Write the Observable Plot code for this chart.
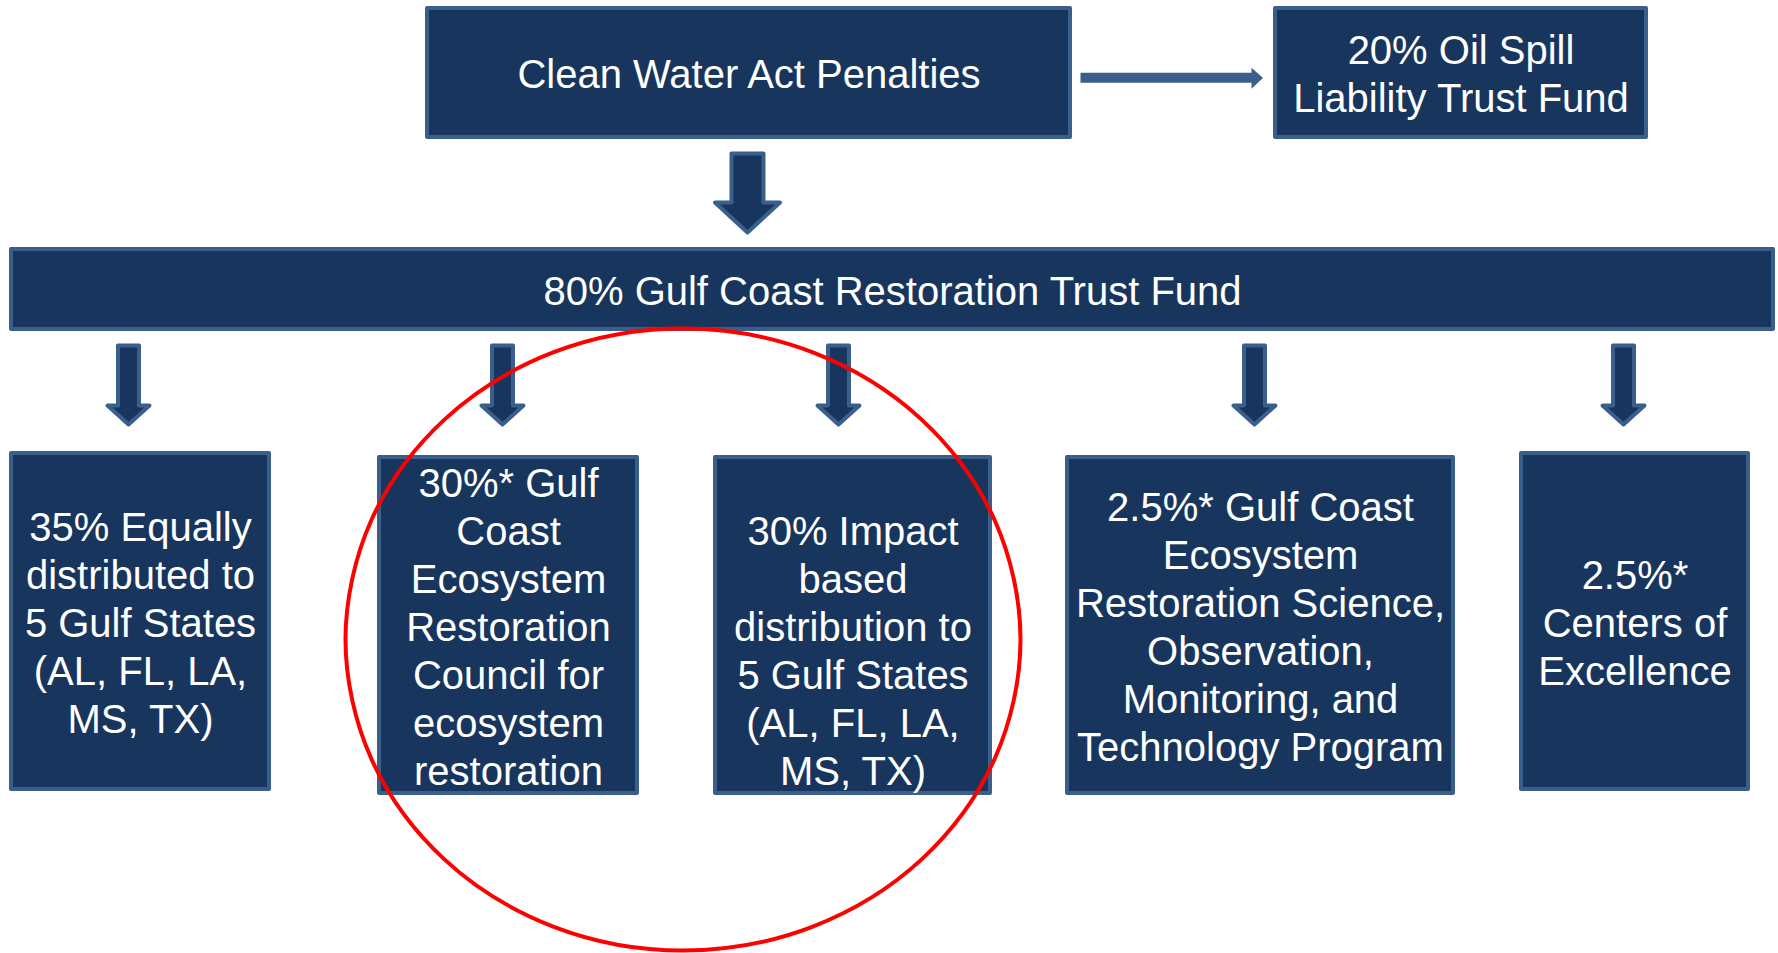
<!DOCTYPE html>
<html>
<head>
<meta charset="utf-8">
<script src="https://cdn.jsdelivr.net/npm/d3@7"></script>
<script src="https://cdn.jsdelivr.net/npm/@observablehq/plot@0.6"></script>
<style>
  html, body { margin: 0; padding: 0; background: #ffffff; overflow: hidden; }
  #chart svg { display: block; }
</style>
</head>
<body>
<div id="chart"></div>
<script>
// ---------- content (labels) ----------
const sourceLabel = "Clean Water Act Penalties";
const oilFundLabel = "20% Oil Spill\nLiability Trust Fund";
const trustFundLabel = "80% Gulf Coast Restoration Trust Fund";
const shareLabels = [
  "35% Equally\ndistributed to\n5 Gulf States\n(AL, FL, LA,\nMS, TX)",
  "30%* Gulf\nCoast\nEcosystem\nRestoration\nCouncil for\necosystem\nrestoration",
  "\n30% Impact\nbased\ndistribution to\n5 Gulf States\n(AL, FL, LA,\nMS, TX)",
  "2.5%* Gulf Coast\nEcosystem\nRestoration Science,\nObservation,\nMonitoring, and\nTechnology Program",
  "2.5%*\nCenters of\nExcellence"
];

// ---------- layout (pixel space of the 1778 x 953 canvas) ----------
const W = 1778, H = 953;
const NAVY = "#18365D", EDGE = "#3B5F8C", RED = "#FF0000";

const topBoxes = [
  {x1: 427, x2: 1070, y1: 8, y2: 137, label: sourceLabel},
  {x1: 1275, x2: 1646, y1: 8, y2: 137, label: oilFundLabel},
  {x1: 11, x2: 1773, y1: 249, y2: 329, label: trustFundLabel}
];
const shareX1 = [11, 379, 715, 1067, 1521];
const shareX2 = [269, 637, 990, 1453, 1748];
const shareY1 = [453, 457, 457, 457, 453];
const shareY2 = [789, 793, 793, 793, 789];
const shareBoxes = shareLabels.map((label, i) => ({
  x1: shareX1[i], x2: shareX2[i], y1: shareY1[i], y2: shareY2[i], label
}));
const boxes = topBoxes.concat(shareBoxes);

// down arrows: center x, shaft half-width, head half-width, top, head start, tip
function downArrow(id, cx, sw, hw, top, hy, tip) {
  return [
    [cx - sw, top], [cx + sw, top], [cx + sw, hy], [cx + hw, hy],
    [cx, tip], [cx - hw, hy], [cx - sw, hy]
  ].map(([x, y]) => ({id, x, y}));
}
const smallArrowX = [128, 502, 838, 1254, 1623];
const downArrows = [
  ...downArrow("main", 747, 16, 32.5, 153, 202, 232),
  ...smallArrowX.flatMap((cx, i) => downArrow("a" + i, cx, 10.5, 21, 345, 405, 424))
];

// horizontal arrow to the oil spill fund
const sideArrow = [
  [1080, 72.3], [1251, 72.3], [1251, 67.3], [1262.5, 77.5],
  [1251, 88.3], [1251, 82.3], [1080, 82.3]
].map(([x, y]) => ({x, y}));

// red highlight ellipse, outline points
const ringPts = [
  [1020, 639], [994.3, 758], [921.1, 858.9], [811.7, 926.3],
  [682.5, 950], [553.3, 926.3], [443.9, 858.9], [370.7, 758],
  [345, 639], [370.7, 520], [443.9, 419.1], [553.3, 351.7],
  [682.5, 328], [811.7, 351.7], [921.1, 419.1], [994.3, 520]
].map(([x, y]) => ({x, y}));

const font = "'Liberation Sans', Arial, Helvetica, sans-serif";

const chart = Plot.plot({
  width: W,
  height: H,
  margin: 0,
  x: {domain: [0, W], range: [0, W], axis: null},
  y: {domain: [0, H], range: [0, H], axis: null},
  style: {background: "#ffffff"},
  marks: [
    Plot.rect(boxes, {
      x1: "x1", x2: "x2", y1: "y1", y2: "y2",
      fill: NAVY, stroke: EDGE, strokeWidth: 4, strokeLinejoin: "round"
    }),
    Plot.line(downArrows, {
      x: "x", y: "y", z: "id", curve: "linear-closed",
      fill: NAVY, stroke: EDGE, strokeWidth: 4, strokeLinejoin: "round"
    }),
    Plot.line(sideArrow, {
      x: "x", y: "y", curve: "linear-closed",
      fill: EDGE, stroke: "none"
    }),
    Plot.text(boxes, {
      x: (d) => (d.x1 + d.x2) / 2,
      y: (d) => (d.y1 + d.y2) / 2,
      text: "label",
      fill: "#ffffff",
      fontSize: 40,
      fontFamily: font,
      lineHeight: 1.2,
      textAnchor: "middle"
    }),
    Plot.line(ringPts, {
      x: "x", y: "y", curve: "catmull-rom-closed",
      stroke: RED, strokeWidth: 4, fill: "none"
    })
  ]
});

document.getElementById("chart").appendChild(chart);
</script>
</body>
</html>
